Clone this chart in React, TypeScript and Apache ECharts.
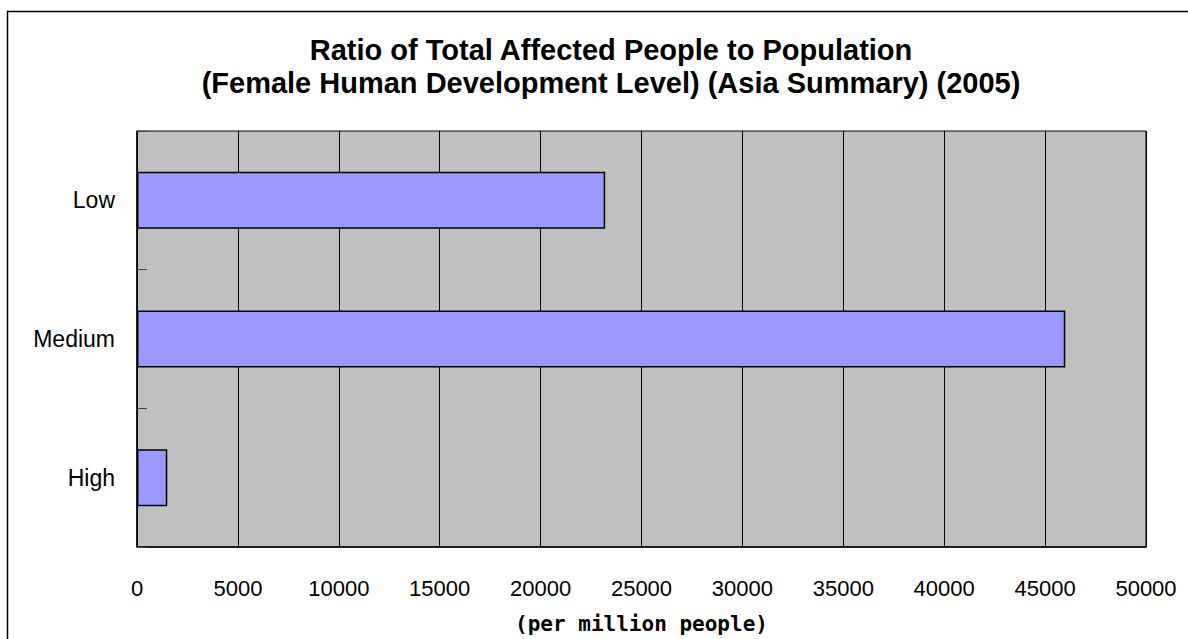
import React, { useEffect, useRef } from "react";
import * as echarts from "echarts";

const categories = ["Low", "Medium", "High"];
const values = [23200, 46000, 1500];
const titleLines = [
  "Ratio of Total Affected People to Population",
  "(Female Human Development Level) (Asia Summary) (2005)",
];
const axisName = "(per million people)";

export default function App() {
  const ref = useRef<HTMLDivElement>(null);
  useEffect(() => {
    document.body.style.margin = "0";
    const chart = echarts.init(ref.current!, null, { renderer: "svg" });
    chart.setOption({
      animation: false,
      backgroundColor: "#ffffff",
      title: {
        text: titleLines.join("\n"),
        left: 606,
        top: 28,
        textAlign: "center",
        textStyle: {
          fontFamily: "Liberation Sans, Arial, sans-serif",
          fontWeight: "bold",
          fontSize: 29,
          lineHeight: 33,
          color: "#000",
        },
      },
      graphic: [
        {
          type: "rect",
          shape: { x: 7.5, y: 11.5, width: 1300, height: 800 },
          style: { fill: "none", stroke: "#000", lineWidth: 1.5 },
          silent: true,
          z: -10,
        },
      ],
      grid: {
        left: 137,
        right: 42,
        top: 131,
        bottom: 87,
        show: true,
        backgroundColor: "#c0c0c0",
        borderColor: "#000",
        borderWidth: 1,
      },
      xAxis: {
        type: "value",
        min: 0,
        max: 50000,
        interval: 5000,
        name: axisName,
        nameLocation: "middle",
        nameGap: 66,
        nameTextStyle: {
          fontFamily: "DejaVu Sans Mono, monospace",
          fontWeight: "bold",
          fontSize: 21,
          color: "#000",
        },
        axisLine: { show: true, lineStyle: { color: "#000", width: 1.5 } },
        axisTick: { show: false },
        axisLabel: {
          margin: 30,
          fontFamily: "Liberation Sans, Arial, sans-serif",
          fontSize: 22,
          color: "#000",
          formatter: (v: number) => String(v),
        },
        splitLine: { show: true, lineStyle: { color: "#000", width: 1 } },
      },
      yAxis: {
        type: "category",
        data: categories,
        inverse: true,
        axisLine: { show: true, lineStyle: { color: "#000", width: 1.5 } },
        axisTick: {
          show: true,
          inside: true,
          length: 10,
          lineStyle: { color: "#444", width: 1 },
        },
        axisLabel: {
          margin: 22,
          fontFamily: "Liberation Sans, Arial, sans-serif",
          fontSize: 23,
          color: "#000",
        },
        splitLine: { show: false },
      },
      series: [
        {
          type: "bar",
          data: values,
          barWidth: 57,
          itemStyle: { color: "#9999ff", borderColor: "#000", borderWidth: 1.5 },
        },
      ],
    });
    return () => chart.dispose();
  }, []);
  return <div ref={ref} style={{ width: 1188, height: 639 }} />;
}
